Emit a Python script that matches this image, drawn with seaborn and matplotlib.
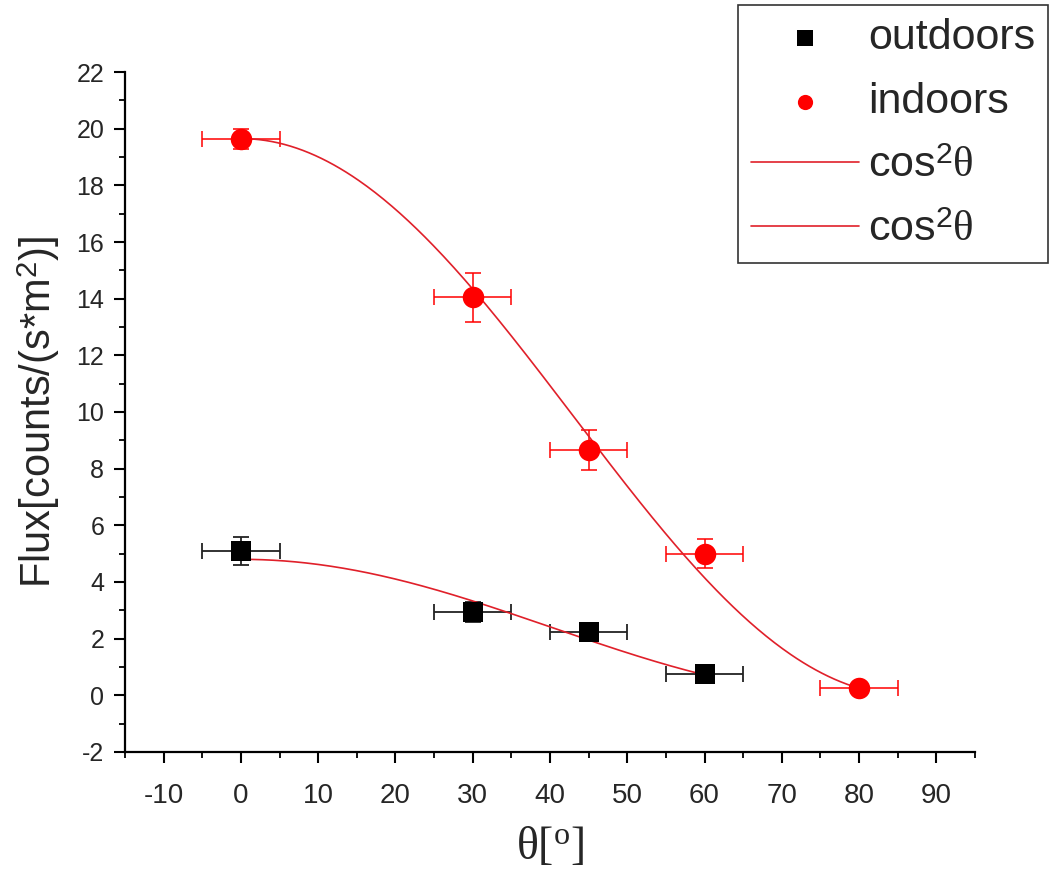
import numpy as np
import pandas as pd
import matplotlib
matplotlib.use("Agg")
import matplotlib.pyplot as plt
from matplotlib.ticker import MultipleLocator
import seaborn as sns

# Measured flux vs zenith angle
theta_out = [0, 30, 45, 60]
flux_out = [5.1, 2.95, 2.25, 0.75]
flux_out_err = [0.5, 0.35, 0.3, 0.12]

theta_in = [0, 30, 45, 60, 80]
flux_in = [19.65, 14.05, 8.65, 5.0, 0.25]
flux_in_err = [0.35, 0.87, 0.7, 0.5, 0.1]

theta_err = 5  # angular resolution, degrees

# Fitted parameters of A*cos^2(B*theta)
fit_out = {"A": 4.8, "B": 1.12, "range": (0, 60)}
fit_in = {"A": 19.65, "B": 1.044, "range": (0, 80)}

x_ticks = list(range(-10, 100, 10))
y_ticks = list(range(-2, 24, 2))

sns.set_theme(style="ticks")
plt.rcParams["font.family"] = ["Liberation Sans", "DejaVu Sans"]
plt.rcParams["axes.unicode_minus"] = False
plt.rcParams["mathtext.fontset"] = "custom"
plt.rcParams["mathtext.rm"] = "Liberation Sans"
plt.rcParams["mathtext.it"] = "Liberation Serif"
plt.rcParams["mathtext.cal"] = "Liberation Serif"

fig = plt.figure(figsize=(10.54, 8.75), dpi=100)
ax = fig.add_axes([0.1186, 0.1406, 0.8064, 0.7771])

red = "#ff0000"


def fit_curve(p, n=300):
    t = np.linspace(p["range"][0], p["range"][1], n)
    return pd.DataFrame({"theta": t,
                         "flux": p["A"] * np.cos(np.radians(p["B"] * t)) ** 2})


df_out = pd.DataFrame({"theta": theta_out, "flux": flux_out})
df_in = pd.DataFrame({"theta": theta_in, "flux": flux_in})

# error bars
ax.errorbar(theta_out, flux_out, xerr=theta_err, yerr=flux_out_err, fmt="none",
            ecolor="#222222", elinewidth=1.3, capsize=6, capthick=1.3, zorder=2)
ax.errorbar(theta_in, flux_in, xerr=theta_err, yerr=flux_in_err, fmt="none",
            ecolor=red, elinewidth=1.1, capsize=6, capthick=1.1, zorder=2)

# data points
sns.scatterplot(data=df_out, x="theta", y="flux", marker="s", s=200, color="black",
                edgecolor="black", linewidth=0, ax=ax, zorder=4, label="outdoors")
sns.scatterplot(data=df_in, x="theta", y="flux", marker="o", s=240, color=red,
                edgecolor=red, linewidth=0, ax=ax, zorder=4, label="indoors")

# fitted curves
sns.lineplot(data=fit_curve(fit_out), x="theta", y="flux", color="#e0202a",
             linewidth=1.2, ax=ax, zorder=3, label=r"$\mathrm{cos}^{2}\theta$")
sns.lineplot(data=fit_curve(fit_in), x="theta", y="flux", color="#e0202a",
             linewidth=1.2, ax=ax, zorder=3, label=r"$\mathrm{cos}^{2}\theta$")

ax.set_xlim(-15, 95)
ax.set_ylim(-2, 22)
ax.set_xticks(x_ticks)
ax.set_yticks(y_ticks)
ax.xaxis.set_minor_locator(MultipleLocator(5))
ax.yaxis.set_minor_locator(MultipleLocator(1))

for side in ["top", "right"]:
    ax.spines[side].set_visible(False)
for side in ["left", "bottom"]:
    ax.spines[side].set_linewidth(1.6)
    ax.spines[side].set_color("black")

ax.tick_params(axis="both", which="major", direction="out", length=8, width=1.5,
               color="black")
ax.tick_params(axis="both", which="minor", direction="out", length=4.5, width=1.3,
               color="black")
ax.tick_params(axis="x", which="major", labelsize=20, pad=14)
ax.tick_params(axis="y", which="major", labelsize=18, pad=7)

ax.set_xlabel(r"$\theta\mathcal{[}^{\mathcal{o}}\mathcal{]}$", fontsize=33, labelpad=12)
ax.set_ylabel(r"Flux[counts/(s*m$^{2}$)]", fontsize=30, labelpad=10)

leg = ax.legend(loc="upper left", bbox_to_anchor=(738 / 1054, 1 - 5 / 875),
                bbox_transform=fig.transFigure, fontsize=31, frameon=True,
                fancybox=False, edgecolor="#333333", framealpha=1,
                borderpad=0.3, labelspacing=0.56, handlelength=2.5,
                handletextpad=0.22, borderaxespad=0)
leg.get_frame().set_linewidth(1.2)
for h in leg.legend_handles[:2]:
    h.set_sizes([120])

fig.savefig("out.png", dpi=100)
